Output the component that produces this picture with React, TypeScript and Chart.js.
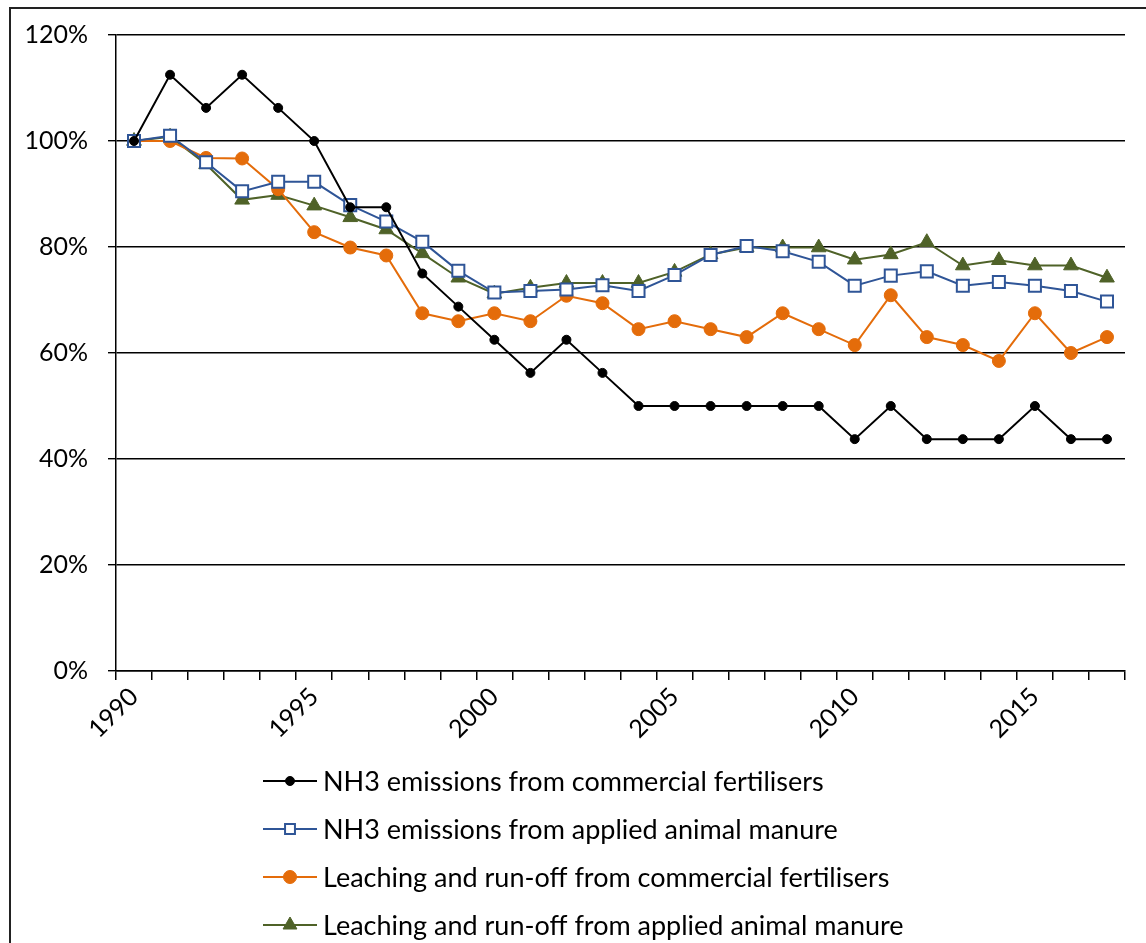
import React, { useEffect, useRef } from "react";
import { Chart, registerables } from "chart.js";
import { drawPoint } from "chart.js/helpers";

Chart.register(...registerables);

const years = [
  "1990", "1991", "1992", "1993", "1994", "1995", "1996", "1997", "1998", "1999",
  "2000", "2001", "2002", "2003", "2004", "2005", "2006", "2007", "2008", "2009",
  "2010", "2011", "2012", "2013", "2014", "2015", "2016", "2017",
];

const nh3Commercial = [
  100, 112.5, 106.25, 112.5, 106.25, 100, 87.5, 87.5, 75, 68.75,
  62.5, 56.25, 62.5, 56.25, 50, 50, 50, 50, 50, 50,
  43.75, 50, 43.75, 43.75, 43.75, 50, 43.75, 43.75,
];

const nh3Manure = [
  100, 101, 96, 90.5, 92.3, 92.3, 87.9, 84.8, 81, 75.5,
  71.4, 71.7, 72, 72.8, 71.7, 74.7, 78.5, 80.2, 79.2, 77.2,
  72.7, 74.6, 75.4, 72.7, 73.4, 72.7, 71.7, 69.7,
];

const leachCommercial = [
  100, 100, 96.8, 96.7, 90.9, 82.8, 79.9, 78.4, 67.5, 66,
  67.5, 66, 70.8, 69.4, 64.5, 66, 64.5, 63, 67.5, 64.5,
  61.5, 70.9, 63, 61.5, 58.5, 67.5, 60, 63,
];

const leachManure = [
  100, 100.8, 95.6, 88.9, 89.8, 87.8, 85.6, 83.3, 78.8, 74.2,
  71.2, 72.3, 73.2, 73.2, 73.2, 75.3, 78.6, 79.9, 79.9, 79.9,
  77.6, 78.6, 80.9, 76.5, 77.5, 76.5, 76.5, 74.2,
];

const seriesNames = [
  "NH3 emissions from commercial fertilisers",
  "NH3 emissions from applied animal manure",
  "Leaching and run-off from commercial fertilisers",
  "Leaching and run-off from applied animal manure",
];

const yTicks = [0, 20, 40, 60, 80, 100, 120];
const FONT = "Lato";

const legendPlugin = {
  id: "lineLegend",
  afterDraw(chart: any) {
    const ctx = chart.ctx;
    const startX = 263;
    const lineLen = 54;
    const textX = 323;
    const rowY = [781, 829, 877, 925];
    chart.data.datasets.forEach((ds: any, i: number) => {
      const y = rowY[i];
      ctx.save();
      ctx.strokeStyle = ds.borderColor;
      ctx.lineWidth = 2;
      ctx.beginPath();
      ctx.moveTo(startX, y);
      ctx.lineTo(startX + lineLen, y);
      ctx.stroke();
      ctx.fillStyle = ds.pointBackgroundColor;
      ctx.strokeStyle = ds.pointBorderColor;
      ctx.lineWidth = ds.pointBorderWidth;
      drawPoint(
        ctx,
        {
          pointStyle: ds.pointStyle,
          rotation: 0,
          borderWidth: ds.pointBorderWidth,
          radius: ds.legendRadius,
        } as any,
        startX + lineLen / 2,
        y
      );
      ctx.fillStyle = "#000";
      ctx.font = `27px ${FONT}`;
      ctx.textAlign = "left";
      ctx.textBaseline = "middle";
      ctx.fillText(seriesNames[i], textX, y + 1);
      ctx.restore();
    });
  },
};

export default function App() {
  const ref = useRef<HTMLCanvasElement>(null);

  useEffect(() => {
    document.body.style.margin = "0";
    const canvas = ref.current!;
    const chart = new Chart(canvas, {
      type: "line",
      data: {
        labels: years,
        datasets: [
          {
            label: seriesNames[0],
            data: nh3Commercial,
            borderColor: "#000000",
            borderWidth: 2,
            pointStyle: "circle",
            pointRadius: 4.5,
            legendRadius: 4.5,
            pointBackgroundColor: "#000000",
            pointBorderColor: "#000000",
            pointBorderWidth: 1,
          } as any,
          {
            label: seriesNames[1],
            data: nh3Manure,
            borderColor: "#2F5597",
            borderWidth: 2,
            pointStyle: "rect",
            pointRadius: 8.5,
            legendRadius: 7,
            pointBackgroundColor: "#ffffff",
            pointBorderColor: "#2F5597",
            pointBorderWidth: 2,
          } as any,
          {
            label: seriesNames[2],
            data: leachCommercial,
            borderColor: "#E46C0A",
            borderWidth: 2,
            pointStyle: "circle",
            pointRadius: 6.5,
            legendRadius: 6.5,
            pointBackgroundColor: "#E46C0A",
            pointBorderColor: "#E46C0A",
            pointBorderWidth: 1,
          } as any,
          {
            label: seriesNames[3],
            data: leachManure,
            borderColor: "#4F6228",
            borderWidth: 2,
            pointStyle: "triangle",
            pointRadius: 8.5,
            legendRadius: 8,
            pointBackgroundColor: "#4F6228",
            pointBorderColor: "#4F6228",
            pointBorderWidth: 1,
          } as any,
        ],
      },
      options: {
        responsive: false,
        animation: false,
        devicePixelRatio: 1,
        layout: { padding: { left: 0, top: 32, right: 21, bottom: 182 } },
        plugins: {
          legend: { display: false },
          tooltip: { enabled: false },
        },
        elements: { line: { tension: 0 } },
        scales: {
          x: {
            type: "category",
            offset: true,
            grid: {
              display: true,
              drawOnChartArea: false,
              drawTicks: true,
              tickLength: 9,
              color: "#000",
              lineWidth: 1.5,
              offset: true,
            },
            border: { display: true, color: "#000", width: 1.5 },
            ticks: {
              autoSkip: false,
              minRotation: 45,
              maxRotation: 45,
              padding: 2,
              color: "#000",
              font: { family: FONT, size: 25 },
              callback: (_v: any, i: number) =>
                (Number(years[i]) - 1990) % 5 === 0 ? years[i] : "",
            },
            afterFit: (scale: any) => {
              scale.height = 90;
            },
          },
          y: {
            min: 0,
            max: 120,
            afterBuildTicks: (scale: any) => {
              scale.ticks = yTicks.map((v) => ({ value: v }));
            },
            grid: {
              color: "#000",
              lineWidth: 1.4,
              tickLength: 8,
            },
            border: { display: true, color: "#000", width: 1.5 },
            ticks: {
              padding: 20,
              color: "#000",
              font: { family: FONT, size: 25 },
              callback: (v: any) => `${v}%`,
            },
            afterFit: (scale: any) => {
              scale.width = 116;
            },
          },
        },
      },
      plugins: [legendPlugin],
    });
    return () => chart.destroy();
  }, []);

  return (
    <div
      style={{
        position: "fixed",
        left: 0,
        top: 0,
        width: 1146,
        height: 943,
        overflow: "hidden",
        background: "#fff",
      }}
    >
      <div
        style={{
          position: "absolute",
          left: 9,
          top: 7,
          width: 1200,
          height: 1000,
          border: "2px solid #222",
          boxSizing: "border-box",
        }}
      />
      <canvas
        ref={ref}
        width={1146}
        height={943}
        style={{ position: "absolute", left: 0, top: 0, width: 1146, height: 943 }}
      />
    </div>
  );
}
